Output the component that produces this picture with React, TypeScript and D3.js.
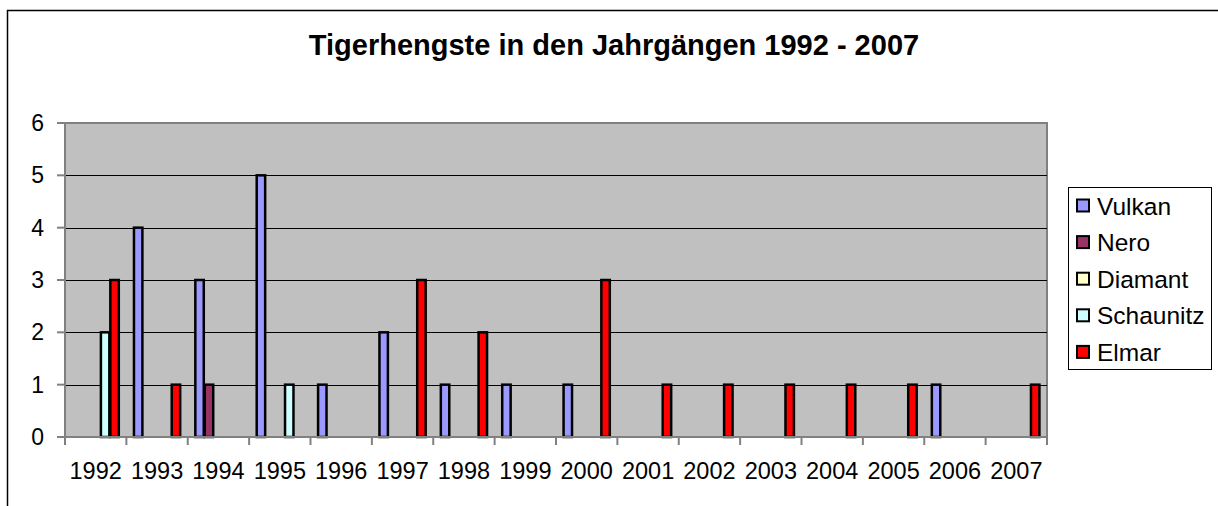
import * as d3 from "d3";
import React, { useEffect, useRef } from "react";

const years = ["1992", "1993", "1994", "1995", "1996", "1997", "1998", "1999", "2000", "2001", "2002", "2003", "2004", "2005", "2006", "2007"];
const seriesNames = ["Vulkan", "Nero", "Diamant", "Schaunitz", "Elmar"];
const seriesColors = ["#9999FF", "#993366", "#FFFFCC", "#CCFFFF", "#FF0000"];

const vulkan = [0, 4, 3, 5, 1, 2, 1, 1, 1, 0, 0, 0, 0, 0, 1, 0];
const nero = [0, 0, 1, 0, 0, 0, 0, 0, 0, 0, 0, 0, 0, 0, 0, 0];
const diamant = [0, 0, 0, 0, 0, 0, 0, 0, 0, 0, 0, 0, 0, 0, 0, 0];
const schaunitz = [2, 0, 0, 1, 0, 0, 0, 0, 0, 0, 0, 0, 0, 0, 0, 0];
const elmar = [3, 1, 0, 0, 0, 3, 2, 0, 3, 1, 1, 1, 1, 1, 0, 1];

const yTicks = [0, 1, 2, 3, 4, 5, 6];

const FONT = "'Liberation Sans', Arial, sans-serif";

const App = () => {
  const svgRef = useRef<SVGSVGElement>(null);

  useEffect(() => {
    const svg = d3.select(svgRef.current);
    svg.selectAll("*").remove();

    const width = 1218;
    const height = 506;
    const left = 65, right = 1047, top = 123, bottom = 437;
    const allSeries = [vulkan, nero, diamant, schaunitz, elmar];

    // chart area background + border
    svg.append("rect").attr("width", width).attr("height", height).attr("fill", "#fff");
    svg
      .append("rect")
      .attr("x", 7.5)
      .attr("y", 10.5)
      .attr("width", width)
      .attr("height", height)
      .attr("fill", "#fff")
      .attr("stroke", "#000")
      .attr("stroke-width", 1.5);

    // title
    svg
      .append("text")
      .attr("x", 614)
      .attr("y", 55)
      .attr("text-anchor", "middle")
      .attr("font-family", FONT)
      .attr("font-weight", "bold")
      .attr("font-size", 29)
      .text("Tigerhengste in den Jahrgängen 1992 - 2007");

    const x = d3.scaleBand().domain(years).range([left, right]).padding(0);
    const xs = d3
      .scaleBand()
      .domain(seriesNames)
      .range([0, x.bandwidth()])
      .paddingInner(0)
      .paddingOuter(0.75);
    const y = d3.scaleLinear().domain([0, 6]).range([bottom, top]);

    // plot area
    svg
      .append("rect")
      .attr("x", left)
      .attr("y", top)
      .attr("width", right - left)
      .attr("height", bottom - top)
      .attr("fill", "#C0C0C0")
      .attr("stroke", "#808080")
      .attr("stroke-width", 2);

    // gridlines
    svg
      .append("g")
      .selectAll("line")
      .data(yTicks.filter((t) => t > 0 && t < 6))
      .enter()
      .append("line")
      .attr("x1", left)
      .attr("x2", right)
      .attr("y1", (d) => Math.round(y(d)) + 0.5)
      .attr("y2", (d) => Math.round(y(d)) + 0.5)
      .attr("stroke", "#000")
      .attr("stroke-width", 1);

    // bars
    allSeries.forEach((vals, si) => {
      svg
        .append("g")
        .selectAll("rect")
        .data(vals.map((v, i) => ({ year: years[i], v })).filter((d) => d.v > 0))
        .enter()
        .append("rect")
        .attr("x", (d) => (x(d.year) as number) + (xs(seriesNames[si]) as number) + 0.5)
        .attr("y", (d) => y(d.v))
        .attr("width", xs.bandwidth() - 1)
        .attr("height", (d) => y(0) - y(d.v))
        .attr("fill", seriesColors[si])
        .attr("stroke", "#000")
        .attr("stroke-width", 2.5);
    });

    // axes lines
    const axisColor = "#808080";
    svg
      .append("line")
      .attr("x1", left)
      .attr("x2", left)
      .attr("y1", top)
      .attr("y2", bottom)
      .attr("stroke", axisColor)
      .attr("stroke-width", 2);
    svg
      .append("line")
      .attr("x1", left - 8)
      .attr("x2", right)
      .attr("y1", bottom)
      .attr("y2", bottom)
      .attr("stroke", axisColor)
      .attr("stroke-width", 2);

    // y ticks + labels
    const yAxis = svg.append("g");
    yAxis
      .selectAll("line")
      .data(yTicks)
      .enter()
      .append("line")
      .attr("x1", left - 8)
      .attr("x2", left)
      .attr("y1", (d) => y(d))
      .attr("y2", (d) => y(d))
      .attr("stroke", axisColor)
      .attr("stroke-width", 2);
    yAxis
      .selectAll("text")
      .data(yTicks)
      .enter()
      .append("text")
      .attr("x", 44)
      .attr("y", (d) => y(d) + 8)
      .attr("text-anchor", "end")
      .attr("font-family", FONT)
      .attr("font-size", 23)
      .text((d) => d);

    // x ticks + labels
    const xAxis = svg.append("g");
    const bounds = years.map((yr) => x(yr) as number).concat([right]);
    xAxis
      .selectAll("line")
      .data(bounds)
      .enter()
      .append("line")
      .attr("x1", (d) => d)
      .attr("x2", (d) => d)
      .attr("y1", bottom)
      .attr("y2", bottom + 8)
      .attr("stroke", axisColor)
      .attr("stroke-width", 2);
    xAxis
      .selectAll("text")
      .data(years)
      .enter()
      .append("text")
      .attr("x", (d) => (x(d) as number) + x.bandwidth() / 2)
      .attr("y", 479)
      .attr("text-anchor", "middle")
      .attr("font-family", FONT)
      .attr("font-size", 23.5)
      .text((d) => d);

    // legend
    const lg = svg.append("g");
    lg.append("rect")
      .attr("x", 1068.5)
      .attr("y", 187.5)
      .attr("width", 143)
      .attr("height", 182)
      .attr("fill", "#fff")
      .attr("stroke", "#000")
      .attr("stroke-width", 1);
    const item = lg
      .selectAll("g.item")
      .data(seriesNames)
      .enter()
      .append("g")
      .attr("class", "item")
      .attr("transform", (d, i) => `translate(0,${206 + i * 36.6})`);
    item
      .append("rect")
      .attr("x", 1077)
      .attr("y", -6.5)
      .attr("width", 12)
      .attr("height", 12)
      .attr("fill", (d, i) => seriesColors[i])
      .attr("stroke", "#000")
      .attr("stroke-width", 2);
    item
      .append("text")
      .attr("x", 1097)
      .attr("y", 8.5)
      .attr("font-family", FONT)
      .attr("font-size", 24.5)
      .text((d) => d);
  }, []);

  return (
    <svg
      ref={svgRef}
      width={1218}
      height={506}
      style={{ position: "absolute", left: 0, top: 0 }}
    ></svg>
  );
};

export default App;
